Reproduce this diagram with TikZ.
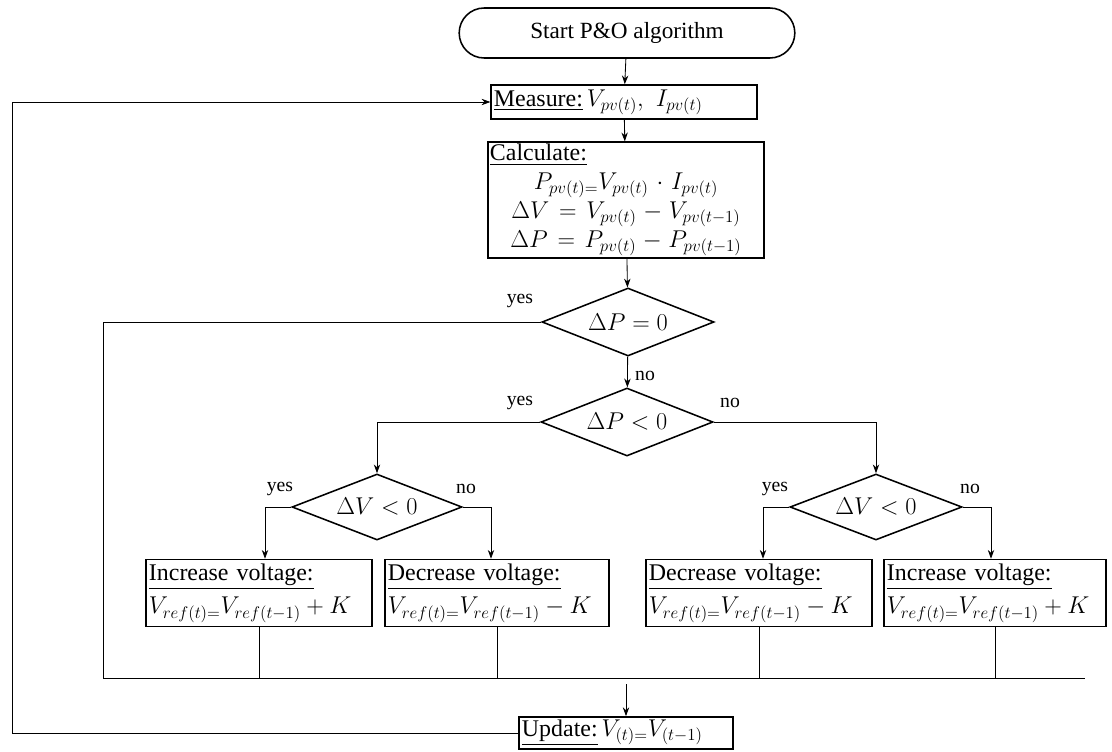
\documentclass[tikz,border=0pt]{standalone}
\usepackage{amsmath}
\usepackage{fontspec}
\setmainfont{Liberation Serif}
\DeclareMathSizes{17}{17}{12.5}{9.5}
\usetikzlibrary{arrows.meta, positioning, shapes.geometric, shapes.misc}

\begin{document}
\begin{tikzpicture}[x=0.025cm, y=-0.025cm,
    font=\fontsize{17}{24}\selectfont,
    block/.style={draw, line width=1.1pt, inner sep=3pt},
    decision/.style={draw, diamond, line width=1.1pt, minimum width=4.3cm,
                     minimum height=1.7cm, inner sep=0pt, aspect=2.5},
    conn/.style={line width=0.6pt},
    arrow/.style={conn, -{Stealth[length=2.2mm, width=1.6mm]}},
    lbl/.style={font=\fontsize{14}{16}\selectfont}]
    \useasboundingbox (0,0) rectangle (1112,751);

    % main column
    \node[block, rounded rectangle, minimum width=8.6cm, minimum height=1.25cm,
          font=\fontsize{16.5}{19}\selectfont] (start) at (627,33) {Start P\&O algorithm};
    \node[block, text width=6.5cm, minimum height=0.85cm, inner sep=2pt, align=left] (measure) at (624,102)
          {\underline{Measure:}\,$V_{pv(t)},\ I_{pv(t)}$};
    \node[block, text width=6.8cm, minimum height=2.875cm, inner sep=1.5pt, align=center,
          font=\fontsize{17}{20.5}\selectfont] (calc) at (626,200)
          {\makebox[6.8cm][l]{\underline{Calculate:}}\\
           $P_{pv(t)=}V_{pv(t)}\cdot I_{pv(t)}$\\
           $\Delta V = V_{pv(t)} - V_{pv(t-1)}$\\
           $\Delta P = P_{pv(t)} - P_{pv(t-1)}$};
    \node[decision] (dP0) at (628,322) {$\Delta P = 0$};
    \node[decision] (dPneg) at (627,422) {$\Delta P < 0$};
    \node[decision, minimum width=4.25cm, minimum height=1.65cm] (dVl) at (377,507) {$\Delta V < 0$};
    \node[decision, minimum width=4.3cm, minimum height=1.65cm] (dVr) at (876,507) {$\Delta V < 0$};

    % voltage steps
    \node[block, text width=5.5cm, minimum height=1.675cm, inner sep=2pt, align=left] (incL) at (259,593)
          {\underline{Increase voltage:}\\ \mbox{$V_{ref(t)=}V_{ref(t-1)} + K$}};
    \node[block, text width=5.45cm, minimum height=1.675cm, inner sep=2pt, align=left] (decL) at (497,593)
          {\underline{Decrease voltage:}\\ \mbox{$V_{ref(t)=}V_{ref(t-1)} - K$}};
    \node[block, text width=5.5cm, minimum height=1.675cm, inner sep=2pt, align=left] (decR) at (759,593)
          {\underline{Decrease voltage:}\\ \mbox{$V_{ref(t)=}V_{ref(t-1)} - K$}};
    \node[block, text width=5.4cm, minimum height=1.675cm, inner sep=2pt, align=left] (incR) at (995,593)
          {\underline{Increase voltage:}\\ \mbox{$V_{ref(t)=}V_{ref(t-1)} + K$}};
    \node[block, text width=5.2cm, minimum height=0.8cm, inner sep=2pt, align=left] (update) at (626,733)
          {\underline{Update:}\,$V_{(t)=}V_{(t-1)}$};

    \coordinate (busL) at (103,678);
    \coordinate (busR) at (1085,678);
    \coordinate (loop) at (12,733);

    % branch labels
    \node[lbl] (y0) at (520,301) {yes};
    \node[lbl] (n0) at (645,376) {no};
    \node[lbl] (y1) at (520,403) {yes};
    \node[lbl] (n1) at (730,403) {no};
    \node[lbl] (y2) at (280,489) {yes};
    \node[lbl] (n2) at (466,489) {no};
    \node[lbl] (y3) at (775,489) {yes};
    \node[lbl] (n3) at (970,489) {no};

    % connectors
    \draw[arrow] (start) -- (measure);
    \draw[arrow] (measure) -- (calc);
    \draw[arrow] (calc) -- (dP0);
    \draw[arrow] (dP0) -- (dPneg);
    \draw[conn] (dP0.west) -| (busL);
    \draw[arrow] (dPneg.west) -| (dVl.north);
    \draw[arrow] (dPneg.east) -| (dVr.north);
    \draw[arrow] (dVl.west) -| ([xshift=0.15cm]incL.north);
    \draw[arrow] (dVl.east) -| ([xshift=-0.15cm]decL.north);
    \draw[arrow] (dVr.west) -| ([xshift=0.1cm]decR.north);
    \draw[arrow] (dVr.east) -| ([xshift=-0.1cm]incR.north);
    \draw[conn] (busL) -- (busR);
    \foreach \n in {incL, decL, decR, incR}
        \draw[conn] (\n.south) -- (\n.south |- busL);
    \draw[arrow] ([yshift=-0.15cm]update.north |- busL) -- (update.north);
    \draw[arrow] (update.west) -- (loop) |- (measure.west);
\end{tikzpicture}
\end{document}
